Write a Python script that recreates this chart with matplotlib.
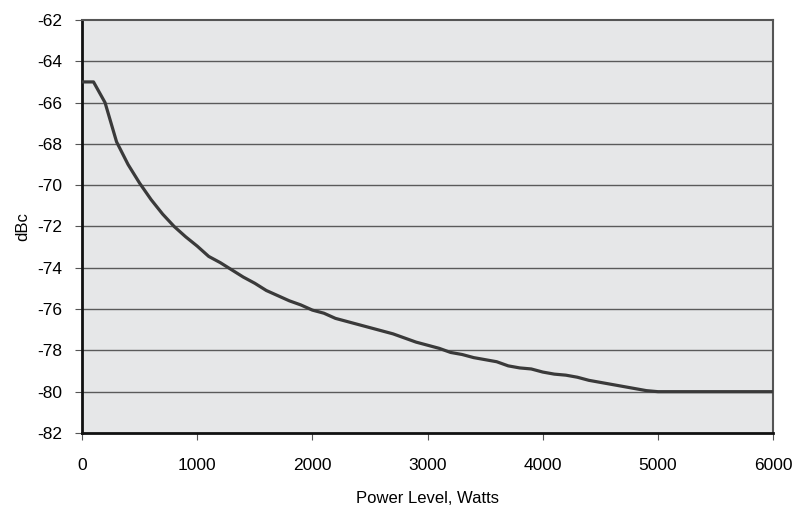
import matplotlib
matplotlib.use("Agg")
import matplotlib.pyplot as plt
import numpy as np

plt.rcParams["font.family"] = ["Liberation Sans", "DejaVu Sans"]
plt.rcParams["axes.unicode_minus"] = False

# power level (W) and level (dBc)
watts = list(range(0, 6100, 100))
dbc = [
    -65.0, -65.0, -66.0, -67.9, -69.0, -69.9, -70.7, -71.4, -72.0, -72.5,
    -72.95, -73.45, -73.75, -74.1, -74.45, -74.75, -75.1, -75.35, -75.6, -75.8,
    -76.05, -76.2, -76.45, -76.6, -76.75, -76.9, -77.05, -77.2, -77.4, -77.6,
    -77.75, -77.9, -78.1, -78.2, -78.35, -78.45, -78.55, -78.75, -78.85, -78.9,
    -79.05, -79.15, -79.2, -79.3, -79.45, -79.55, -79.65, -79.75, -79.85, -79.95,
    -80.0, -80.0, -80.0, -80.0, -80.0, -80.0, -80.0, -80.0, -80.0, -80.0, -80.0,
]

x_ticks = [0, 1000, 2000, 3000, 4000, 5000, 6000]
y_ticks = list(range(-82, -61, 2))

fig = plt.figure(figsize=(7.93, 5.07), dpi=100)
ax = fig.add_axes([0.1034, 0.146, 0.8716, 0.8146])
ax.set_facecolor("#e6e7e8")

for y in y_ticks[1:-1]:
    ax.axhline(y, color="#5a5a5a", linewidth=1.0, zorder=1)

ax.plot(watts, dbc, color="#3a3a3a", linewidth=2.3, zorder=3)

ax.set_xlim(0, 6000)
ax.set_ylim(-82, -62)
ax.set_xticks(x_ticks)
ax.set_yticks(y_ticks)
ax.tick_params(direction="out", length=5, width=0.8, color="#555555",
               labelsize=12.5)
ax.tick_params(axis="x", pad=13)
ax.tick_params(axis="y", pad=9)

for side in ["left", "bottom"]:
    ax.spines[side].set_color("#111111")
    ax.spines[side].set_linewidth(2)
for side in ["top", "right"]:
    ax.spines[side].set_color("#555555")
    ax.spines[side].set_linewidth(1.5)

ax.set_xlabel("Power Level, Watts", fontsize=12, labelpad=13)
ax.set_ylabel("dBc", fontsize=12, labelpad=5)

fig.savefig("out.png", dpi=100)
